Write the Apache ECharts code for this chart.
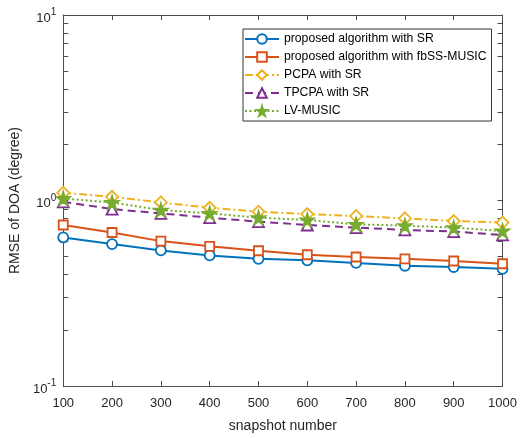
<!DOCTYPE html>
<html><head><meta charset="utf-8">
<script src="https://cdn.jsdelivr.net/npm/echarts@6/dist/echarts.min.js"></script>
<style>html,body{margin:0;padding:0;background:#fff}#c{width:520px;height:438px}</style>
</head><body><div id="c"></div>
<script>
const snapshots = [100, 200, 300, 400, 500, 600, 700, 800, 900, 1000];
const seriesNames = ['proposed algorithm with SR', 'proposed algorithm with fbSS-MUSIC', 'PCPA with SR', 'TPCPA with SR', 'LV-MUSIC'];
const proposedSR = [0.632, 0.582, 0.538, 0.506, 0.485, 0.476, 0.461, 0.445, 0.438, 0.428];
const proposedFbSS = [0.738, 0.672, 0.604, 0.566, 0.536, 0.510, 0.496, 0.485, 0.472, 0.456];
const pcpaSR = [1.10, 1.047, 0.976, 0.914, 0.870, 0.845, 0.824, 0.801, 0.775, 0.760];
const tpcpaSR = [0.984, 0.899, 0.852, 0.808, 0.769, 0.738, 0.714, 0.694, 0.680, 0.652];
const lvMusic = [1.025, 0.976, 0.888, 0.852, 0.808, 0.785, 0.744, 0.732, 0.714, 0.685];
const yMajorTicks = [0.1, 1, 10];
const yMinorTicks = [0.1,0.2,0.3,0.4,0.5,0.6,0.7,0.8,0.9,1,2,3,4,5,6,7,8,9,10];

const FONT = '"Liberation Sans", Arial, sans-serif';
const AX = '#4d4d4d';
const pairs = v => snapshots.map((x, i) => [x, v[i]]);
const star = 'path://M50,0 L61,35 L98,35 L68,57 L79,91 L50,70 L21,91 L32,57 L2,35 L39,35 Z';

function mkSeries(name, data, color, type, symbol, size, filled) {
  return {
    name, type: 'line', data: pairs(data), symbol, symbolSize: size,
    showSymbol: true,
    lineStyle: { color, width: 2, type },
    itemStyle: { color: filled ? color : '#fff', borderColor: color, borderWidth: 1.8 },
    emphasis: { disabled: true }, animation: false, z: 3
  };
}

const supFmt = v => {
  const e = Math.round(Math.log10(v));
  return '{b|10}{s|' + e + '}';
};

const yBase = {
  type: 'log', logBase: 10, min: 0.1, max: 10,
  axisLine: { show: true, lineStyle: { color: AX, width: 1 } },
  splitLine: { show: false },
  minorTick: { show: false },
};

const chart = echarts.init(document.getElementById('c'), null, { renderer: 'canvas' });
chart.setOption({
  animation: false,
  backgroundColor: '#fff',
  grid: { left: 58, right: 15, top: 15, bottom: 49 },
  legend: {
    orient: 'vertical', left: 243, top: 29,
    data: seriesNames,
    backgroundColor: '#fff', borderColor: '#333', borderWidth: 1,
    padding: [4, 5, 4, 1], itemGap: 6, itemWidth: 34, itemHeight: 12,
    textStyle: { fontFamily: FONT, fontSize: 12.2, color: '#000' },
    selectedMode: false
  },
  xAxis: [{
    type: 'value', min: 100, max: 1000, interval: 100,
    name: 'snapshot number', nameLocation: 'middle', nameGap: 33,
    nameTextStyle: { fontFamily: FONT, fontSize: 14, color: '#262626' },
    axisLine: { show: true, onZero: false, lineStyle: { color: AX } },
    axisTick: { show: true, inside: true, length: 5, lineStyle: { color: AX } },
    axisLabel: { fontFamily: FONT, fontSize: 13, color: '#262626', margin: 11, formatter: v => String(v) },
    splitLine: { show: false }
  }, {
    type: 'value', min: 100, max: 1000, interval: 100, position: 'top',
    axisLine: { show: true, onZero: false, lineStyle: { color: AX } },
    axisTick: { show: true, inside: true, length: 5, lineStyle: { color: AX } },
    axisLabel: { show: false }, splitLine: { show: false }
  }],
  yAxis: [Object.assign({}, yBase, {
    position: 'left',
    name: 'RMSE of DOA (degree)', nameLocation: 'middle', nameGap: 27,
    nameTextStyle: { fontFamily: FONT, fontSize: 14, color: '#262626' },
    axisTick: { show: true, inside: true, length: 5, lineStyle: { color: AX }, customValues: yMinorTicks },
    axisLabel: {
      customValues: yMajorTicks, formatter: supFmt, margin: 7,
      rich: {
        b: { fontFamily: FONT, fontSize: 13, color: '#262626', padding: [6, 0, 0, 0] },
        s: { fontFamily: FONT, fontSize: 10, color: '#262626', padding: [0, 0, 5, 0] }
      }
    }
  }), Object.assign({}, yBase, {
    position: 'right',
    axisTick: { show: true, inside: true, length: 5, lineStyle: { color: AX }, customValues: yMinorTicks },
    axisLabel: { show: false }
  })],
  series: [
    mkSeries(seriesNames[0], proposedSR, '#0072BD', 'solid', 'circle', 10, false),
    mkSeries(seriesNames[1], proposedFbSS, '#D95319', 'solid', 'rect', 9, false),
    mkSeries(seriesNames[2], pcpaSR, '#EDB120', [8, 3, 2, 3], 'diamond', 12, false),
    mkSeries(seriesNames[3], tpcpaSR, '#7E2F8E', [8, 5], 'triangle', 11, false),
    mkSeries(seriesNames[4], lvMusic, '#77AC30', [2, 2.5], star, 13, true)
  ]
});
</script></body></html>
